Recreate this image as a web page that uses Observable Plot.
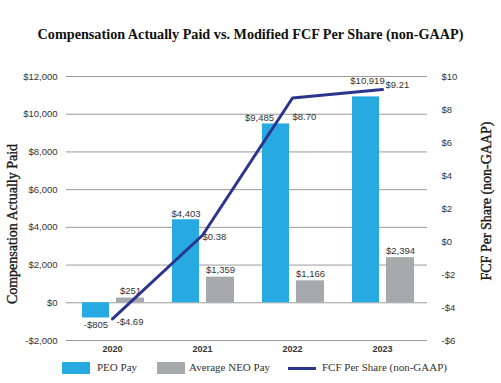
<!DOCTYPE html>
<html>
<head>
<meta charset="utf-8">
<script src="https://cdn.jsdelivr.net/npm/d3@7"></script>
<script src="https://cdn.jsdelivr.net/npm/@observablehq/plot@0.6"></script>
<style>
  html, body { margin: 0; padding: 0; background: #fff; }
  #wrap { width: 501px; height: 383px; position: relative; overflow: hidden; }
  #title { height: 60px; box-sizing: border-box; padding-top: 26px; text-align: center;
    font-family: "Liberation Serif", serif; font-weight: bold; font-size: 14.2px; color: #111; }
  #chart svg { display: block; }
  #legend { position: absolute; top: 360px; left: 0; width: 501px; height: 23px;
    font-family: "Liberation Serif", serif; font-size: 11px; color: #333; }
  .sw { position: absolute; top: 2px; width: 28px; height: 12px; }
  .lt { position: absolute; top: 1px; white-space: nowrap; }
  .axt { position: absolute; white-space: nowrap; transform: translate(-50%, -50%) rotate(-90deg);
    font-family: "Liberation Serif", serif; font-weight: normal; font-size: 14px; color: #1a1a1a;
    -webkit-text-stroke: 0.35px #1a1a1a; }
</style>
</head>
<body>
<div id="wrap">
  <div id="title">Compensation Actually Paid vs. Modified FCF Per Share (non-GAAP)</div>
  <div id="chart"></div>
  <div id="legend"></div>
  <div class="axt" id="ltitle" style="left:13px; top:224px;"></div>
  <div class="axt" id="rtitle" style="left:487px; top:201px;"></div>
</div>
<script>
const years = ["2020", "2021", "2022", "2023"];
const peoPay = [-805, 4403, 9485, 10919];
const neoPay = [251, 1359, 1166, 2394];
const fcfPerShare = [-4.69, 0.38, 8.70, 9.21];
const leftTicks = [-2000, 0, 2000, 4000, 6000, 8000, 10000, 12000];
const rightTicks = [-6, -4, -2, 0, 2, 4, 6, 8, 10];
const seriesNames = ["PEO Pay", "Average NEO Pay", "FCF Per Share (non-GAAP)"];
const axisTitles = ["Compensation Actually Paid", "FCF Per Share (non-GAAP)"];
const colors = ["#27aae1", "#a7a9ac", "#2b3590"];

const leftDomain = [-2000, 12000];
const rightDomain = [-6, 10];
// map right-axis values onto the shared (left) y scale
const toLeft = v => leftDomain[0] + (v - rightDomain[0]) * (leftDomain[1] - leftDomain[0]) / (rightDomain[1] - rightDomain[0]);
const fromLeft = v => rightDomain[0] + (v - leftDomain[0]) * (rightDomain[1] - rightDomain[0]) / (leftDomain[1] - leftDomain[0]);

const data = years.map((y, i) => ({year: y, peo: peoPay[i], neo: neoPay[i], fcf: fcfPerShare[i], i}));

const money = v => (v < 0 ? "-$" : "$") + d3.format(",")(Math.abs(v));
const money2 = v => (v < 0 ? "-$" : "$") + d3.format(".2f")(Math.abs(v));
const moneyTick = v => (v < 0 ? "-$" : "$") + d3.format(",")(Math.abs(v));

const sans = "Liberation Sans, Arial, sans-serif";
const lblFont = 9.5;

const chart = Plot.plot({
  width: 501,
  height: 300,
  marginTop: 16,
  marginBottom: 20,
  marginLeft: 66,
  marginRight: 74,
  style: {fontFamily: sans, fontSize: "9.5px", color: "#333", background: "white"},
  x: {type: "band", domain: years, padding: 0, label: null},
  y: {domain: leftDomain, label: null},
  marks: [
    Plot.ruleY(leftTicks, {stroke: "#9b9b9b", strokeWidth: 1}),
    Plot.axisY(leftTicks, {anchor: "left", tickSize: 0, tickPadding: 9, tickFormat: moneyTick, fontSize: 9.5, label: null}),
    Plot.axisY(rightTicks.map(toLeft), {anchor: "right", tickSize: 0, tickPadding: 14, textAnchor: "start",
      tickFormat: v => moneyTick(Math.round(fromLeft(v))), fontSize: 9.5, label: null}),
    Plot.axisX({tickSize: 0, tickPadding: 5, fontWeight: "bold", fontSize: 9, label: null}),
    Plot.barY(data, {x: "year", y: "peo", fill: colors[0], insetLeft: 15, insetRight: 48}),
    Plot.barY(data, {x: "year", y: "neo", fill: colors[1], insetLeft: 49, insetRight: 13}),
    // PEO labels
    Plot.text(data, {filter: d => d.peo >= 0 && d.i !== 2 && d.i !== 3, x: "year", y: "peo", text: d => money(d.peo),
      dx: -16.5, dy: -3, lineAnchor: "bottom", fontSize: lblFont, fill: "#333"}),
    Plot.text(data, {filter: d => d.i === 2, x: "year", y: "peo", text: d => money(d.peo),
      dx: -33, dy: -3, lineAnchor: "bottom", fontSize: lblFont, fill: "#333"}),
    Plot.text(data, {filter: d => d.i === 3, x: "year", y: "peo", text: d => money(d.peo),
      dx: -15, dy: -13, lineAnchor: "bottom", fontSize: lblFont, fill: "#333"}),
    Plot.text(data, {filter: d => d.peo < 0, x: "year", y: "peo", text: d => money(d.peo),
      dx: -16.5, dy: 3, lineAnchor: "top", fontSize: lblFont, fill: "#333"}),
    // NEO labels
    Plot.text(data, {x: "year", y: "neo", text: d => money(d.neo),
      dx: 18, dy: -4, lineAnchor: "bottom", fontSize: lblFont, fill: "#333"}),
    // FCF labels
    Plot.text(data, {filter: d => d.i === 0, x: "year", y: d => toLeft(d.fcf), text: d => money2(d.fcf),
      dx: 4, dy: 3, textAnchor: "start", fontSize: lblFont, fill: "#333"}),
    Plot.text(data, {filter: d => d.i === 1, x: "year", y: d => toLeft(d.fcf), text: d => money2(d.fcf),
      dx: 0, dy: 2, textAnchor: "start", fontSize: lblFont, fill: "#333"}),
    Plot.text(data, {filter: d => d.i === 2, x: "year", y: d => toLeft(d.fcf), text: d => money2(d.fcf),
      dx: 0, dy: 19, textAnchor: "start", fontSize: lblFont, fill: "#333"}),
    Plot.text(data, {filter: d => d.i === 3, x: "year", y: d => toLeft(d.fcf), text: d => money2(d.fcf),
      dx: 3, dy: -5, textAnchor: "start", fontSize: lblFont, fill: "#333"}),
    Plot.line(data, {x: "year", y: d => toLeft(d.fcf), stroke: colors[2], strokeWidth: 3})
  ]
});
document.getElementById("chart").appendChild(chart);
document.getElementById("ltitle").textContent = axisTitles[0];
document.getElementById("rtitle").textContent = axisTitles[1];

const legend = document.getElementById("legend");
const items = [
  {x: 62, tx: 97, kind: "box"},
  {x: 157, tx: 189, kind: "box"},
  {x: 288, tx: 322, kind: "line"}
];
items.forEach((it, k) => {
  const sw = document.createElement("div");
  sw.className = "sw";
  sw.style.left = it.x + "px";
  sw.style.background = colors[k];
  if (it.kind === "line") { sw.style.height = "3px"; sw.style.top = "7px"; }
  legend.appendChild(sw);
  const t = document.createElement("div");
  t.className = "lt";
  t.style.left = it.tx + "px";
  t.textContent = seriesNames[k];
  legend.appendChild(t);
});
</script>
</body>
</html>
